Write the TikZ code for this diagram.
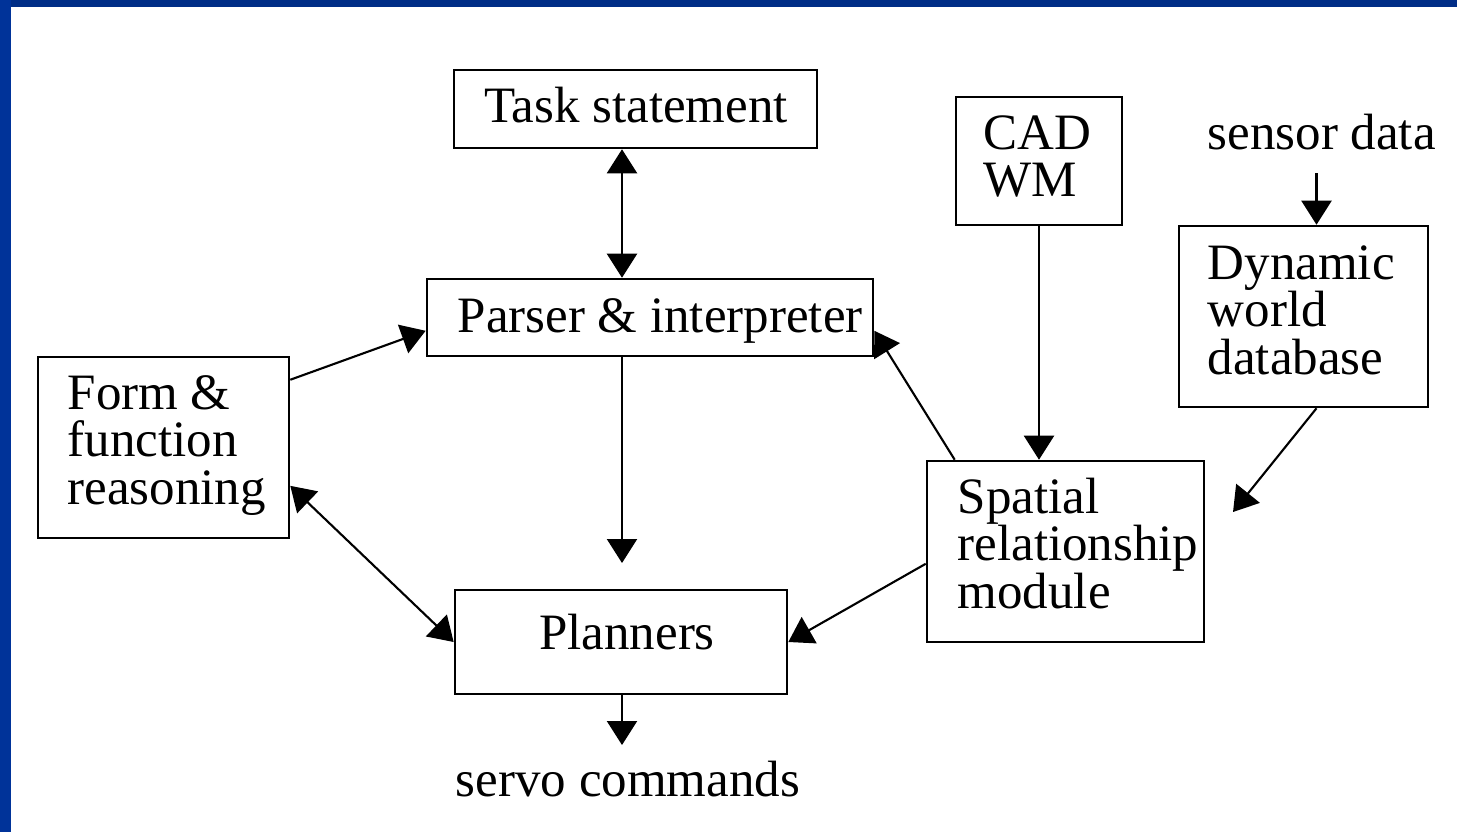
\documentclass[tikz,border=0pt]{standalone}
\usepackage{fontspec}
\setmainfont{Liberation Serif}
\usetikzlibrary{arrows.meta}
\definecolor{framebluetop}{RGB}{0,45,134}
\definecolor{frameblueleft}{RGB}{0,51,153}
\tikzset{
  box/.style={draw, rectangle, line width=0.7pt, inner sep=0pt},
  lbl/.style={inner sep=0pt, font=\fontsize{14.5pt}{0.475cm}\selectfont},
  tip/.tip={Triangle[length=0.24cm,width=0.30cm]},
  flow/.style={line width=0.6pt, -tip},
  twoway/.style={line width=0.6pt, tip-tip},
}
\begin{document}
\begin{tikzpicture}[x=0.01cm,y=-0.01cm]
\useasboundingbox (0,0) rectangle (1457,832);
% slide frame
\fill[framebluetop] (0,0) rectangle (1457,7);
\fill[frameblueleft] (0,0) rectangle (11,832);

% boxes
\node[box, minimum width=3.63cm, minimum height=0.78cm] (task) at (635.5,109) {};
\node[box, minimum width=4.46cm, minimum height=0.77cm] (parser) at (650,317.5) {};
\node[box, minimum width=1.66cm, minimum height=1.28cm] (cad) at (1039,161) {};
\node[box, minimum width=2.49cm, minimum height=1.81cm] (dyn) at (1303.5,316.5) {};
\node[box, minimum width=2.51cm, minimum height=1.81cm] (form) at (163.5,447.5) {};
\node[box, minimum width=2.77cm, minimum height=1.81cm] (spatial) at (1065.5,551.5) {};
\node[box, minimum width=3.32cm, minimum height=1.04cm] (planners) at (621,642) {};

% texts
\node[lbl, anchor=base] (tasktext) at (636,122) {Task statement};
\node[lbl, anchor=base west] (parsertext) at (457,332) {Parser \& interpreter};
\node[lbl, anchor=base] (plannerstext) at (627,649) {Planners};
\node[lbl, anchor=base west] (cadtext) at (983,149) {\vtop{\hbox{CAD}\hbox{WM}}};
\node[lbl, anchor=base west] (dyntext) at (1207,279) {\vtop{\hbox{Dynamic}\hbox{world}\hbox{database}}};
\node[lbl, anchor=base west] (formtext) at (67,409) {\vtop{\hbox{Form \&}\hbox{function}\hbox{reasoning}}};
\node[lbl, anchor=base west] (spatialtext) at (957,513) {\vtop{\hbox{Spatial}\hbox{relationship}\hbox{module}}};
\node[lbl, anchor=base west] (sensor) at (1207,149) {sensor data};
\node[lbl, anchor=base] (servo) at (628,796) {servo commands};

% free ends and guide points
\coordinate (midx) at (622,0);
\coordinate (plannerstop) at (622,563);
\coordinate (servoend) at (622,745);
\coordinate (sensorstart) at (1316.5,173);
\coordinate (dynend) at (1233,512);

% connectors
\draw[twoway] (task.south -| midx) -- (parser.north -| midx);
\draw[flow] (parser.south -| midx) -- (plannerstop);
\draw[flow] (planners.south -| midx) -- (servoend);
\draw[flow] ([yshift=-0.24cm]form.north east) -- ([yshift=-0.53cm]parser.north west);
\draw[twoway] ([yshift=-1.30cm]form.north east) -- (planners.west);
\draw[flow] ([xshift=0.29cm]spatial.north west) -- ([yshift=-0.53cm]parser.north east);
\draw[flow] (cad.south) -- (spatial.north -| cad.south);
\draw[flow] (sensorstart) -- (dyn.north -| sensorstart);
\draw[flow] (dyn.south -| sensorstart) -- (dynend);
\draw[flow] ([yshift=-1.04cm]spatial.north west) -- (planners.east);
\end{tikzpicture}
\end{document}
